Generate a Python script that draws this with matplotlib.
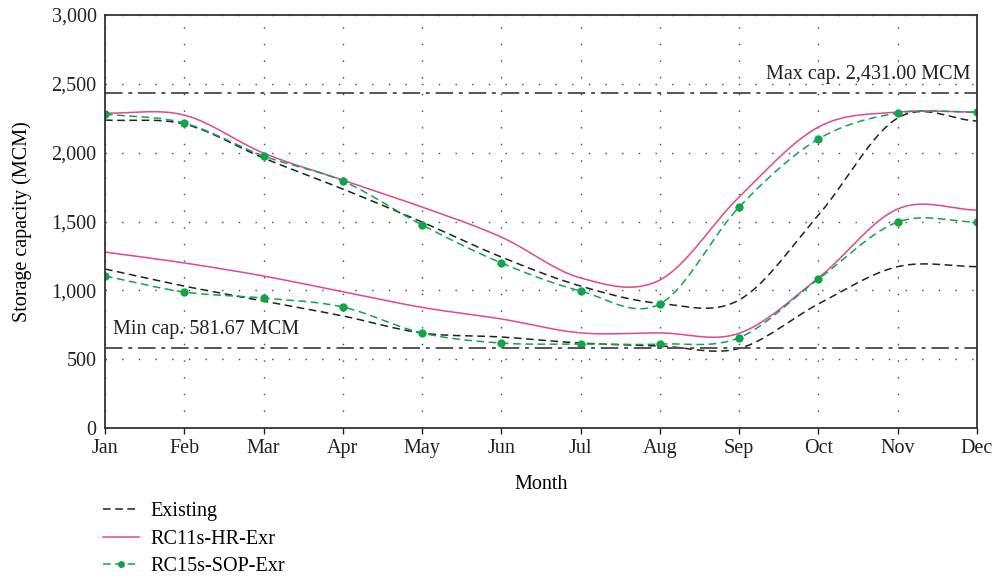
import numpy as np
import matplotlib
matplotlib.use("Agg")
import matplotlib.pyplot as plt
from matplotlib.lines import Line2D
from matplotlib.ticker import FuncFormatter

months = ["Jan", "Feb", "Mar", "Apr", "May", "Jun", "Jul", "Aug", "Sep", "Oct", "Nov", "Dec"]

# upper / lower rule curves (MCM)
existing_upper = [2237, 2208, 1961, 1736, 1496, 1242, 1031, 905, 930, 1547, 2252, 2230]
existing_lower = [1155, 1031, 922, 814, 690, 661, 617, 596, 578, 901, 1172, 1172]
hr_upper = [2288, 2273, 1997, 1801, 1605, 1387, 1090, 1075, 1678, 2186, 2295, 2295]
hr_lower = [1278, 1199, 1104, 990, 876, 792, 691, 691, 688, 1090, 1591, 1583]
sop_upper = [2281, 2215, 1976, 1794, 1475, 1199, 995, 901, 1605, 2099, 2288, 2295]
sop_lower = [1104, 988, 944, 879, 690, 617, 610, 610, 656, 1082, 1496, 1496]

max_cap = 2431.00
min_cap = 581.67

BLACK = "#222222"
PINK = "#E0488F"
GREEN = "#10A548"
GRAY = "#555555"

plt.rcParams["font.family"] = ["Liberation Serif", "DejaVu Serif"]
FS = 14.5


def smooth(y, n=20):
    """Catmull-Rom curve through the monthly points."""
    y = np.asarray(y, dtype=float)
    x = np.arange(len(y), dtype=float)
    p = np.concatenate([[2 * y[0] - y[1]], y, [2 * y[-1] - y[-2]]])
    xs, ys = [], []
    t = np.linspace(0, 1, n, endpoint=False)
    for i in range(len(y) - 1):
        p0, p1, p2, p3 = p[i], p[i + 1], p[i + 2], p[i + 3]
        seg = 0.5 * ((2 * p1) + (-p0 + p2) * t
                     + (2 * p0 - 5 * p1 + 4 * p2 - p3) * t ** 2
                     + (-p0 + 3 * p1 - 3 * p2 + p3) * t ** 3)
        xs.append(x[i] + t)
        ys.append(seg)
    xs.append([x[-1]])
    ys.append([y[-1]])
    return np.concatenate(xs), np.concatenate(ys)


fig = plt.figure(figsize=(9.98, 5.82), dpi=100)
ax = fig.add_axes([0.1052, 0.2646, 0.8737, 0.7096])
x = np.arange(len(months))

dash = (0, (5, 3))
for y in (existing_upper, existing_lower):
    sx, sy = smooth(y)
    ax.plot(sx, sy, color=BLACK, lw=1.1, ls=dash)
for y in (hr_upper, hr_lower):
    sx, sy = smooth(y)
    ax.plot(sx, sy, color=PINK, lw=1.1)
for y in (sop_upper, sop_lower):
    sx, sy = smooth(y)
    ax.plot(sx, sy, color=GREEN, lw=1.1, ls=dash)
    ax.plot(x, y, "o", color=GREEN, ms=6, mec="none")

capstyle = (0, (9, 3, 2, 3))
ax.axhline(max_cap, color=GRAY, lw=1.4, ls=capstyle)
ax.axhline(min_cap, color=GRAY, lw=1.4, ls=capstyle)
ax.text(10.92, max_cap + 65, f"Max cap. {max_cap:,.2f} MCM", ha="right", va="bottom",
        fontsize=FS, color="#222222")
ax.text(0.1, min_cap + 65, f"Min cap. {min_cap:,.2f} MCM", ha="left", va="bottom",
        fontsize=FS, color="#222222")

ax.set_xlim(0, 11)
ax.set_ylim(0, 3000)
ax.set_xticks(x)
ax.set_xticklabels(months)
ax.set_yticks(np.arange(0, 3001, 500))
ax.yaxis.set_major_formatter(FuncFormatter(lambda v, p: f"{v:,.0f}"))
ax.tick_params(axis="x", length=4, width=1, direction="out", labelsize=FS, pad=4, colors=BLACK)
ax.tick_params(axis="y", length=0, labelsize=FS, pad=6, colors=BLACK)
ax.grid(True, color="#444444", ls=(0, (1, 11)), lw=1.0)
for s in ax.spines.values():
    s.set_color("#333333")
    s.set_linewidth(1.3)

ax.set_xlabel("Month", fontsize=FS, labelpad=12)
ax.set_ylabel("Storage capacity (MCM)", fontsize=FS, labelpad=14)

handles = [
    Line2D([], [], color=BLACK, lw=1.1, ls=dash),
    Line2D([], [], color=PINK, lw=1.1),
    Line2D([], [], color=GREEN, lw=1.1, ls=dash, marker="o", ms=5, mec="none"),
]
fig.legend(handles, ["Existing", "RC11s-HR-Exr", "RC15s-SOP-Exr"],
           loc="upper left", bbox_to_anchor=(0.103, 0.137), frameon=False,
           fontsize=FS, handlelength=1.8, handletextpad=0.55, labelspacing=0.42,
           borderaxespad=0, borderpad=0)

fig.savefig("out.png", dpi=100)
